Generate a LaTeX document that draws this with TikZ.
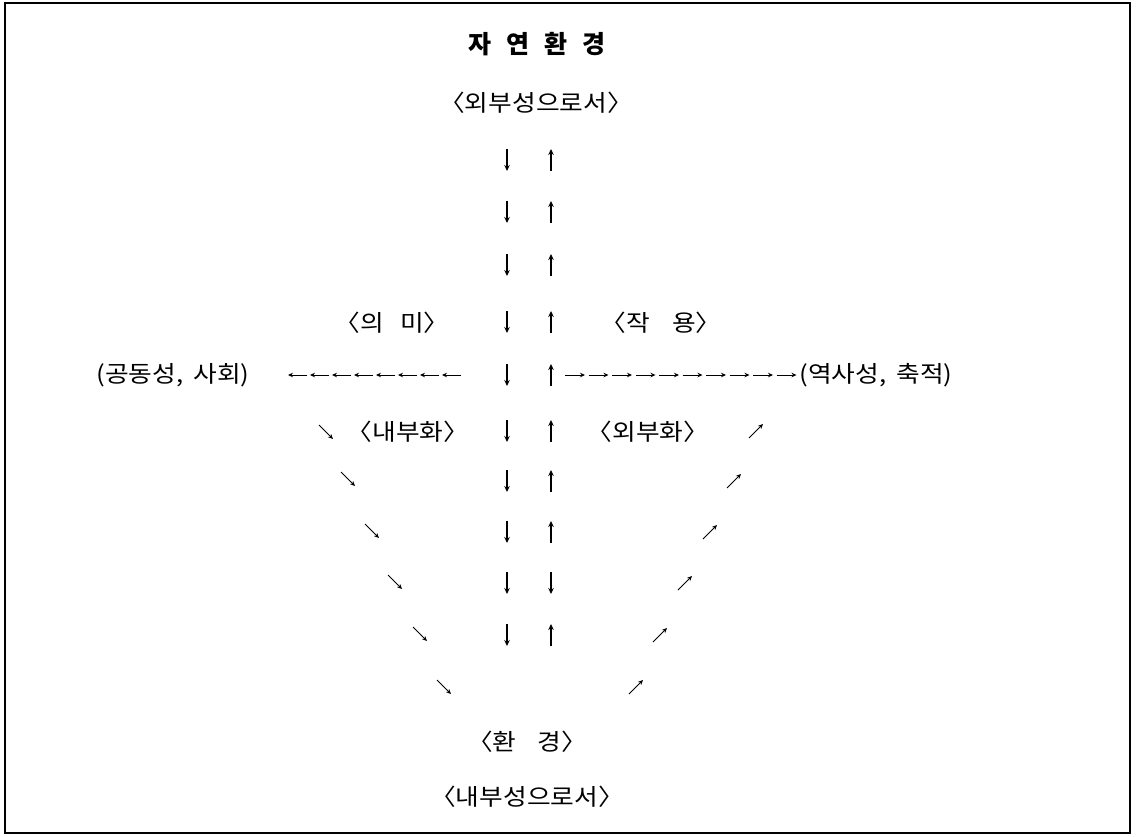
\documentclass[tikz,border=0pt]{standalone}
\usepackage{fontspec}
\newfontfamily\kr{Noto Sans CJK KR}
\newfontfamily\krw[FakeStretch=1.12]{Noto Sans CJK KR}
\usetikzlibrary{arrows.meta}
\begin{document}
\begin{tikzpicture}[x=1pt,y=-1pt,
  lbl/.style={font=\krw\fontsize{23}{26}\selectfont, inner sep=0pt, anchor=center},
  ttl/.style={font=\kr\bfseries\fontsize{25}{30}\selectfont, inner sep=0pt, anchor=center},
  arr/.style={line width=1.3pt, -{Stealth[length=6pt,width=5.5pt]}},
  harr/.style={line width=1pt, -{Stealth[length=5pt,width=4.5pt]}}]
\useasboundingbox (0,0) rectangle (1139,836);
\draw[line width=1.5pt] (5,3) rectangle (1130,833);
% texts
\node[ttl] (title) at (537,44) {자\hspace{15pt}연\hspace{15pt}환\hspace{15pt}경};
\node[lbl] (ext) at (536,103) {〈외부성으로서〉};
\node[lbl] (meaning) at (392,323) {〈의\hspace{16pt}미〉};
\node[lbl] (action) at (661,323) {〈작\hspace{22pt}용〉};
\node[lbl] (comm) at (173,375) {(공동성,\hspace{4pt} 사회)};
\node[lbl] (hist) at (876,375) {(역사성,\hspace{4pt} 축적)};
\node[lbl] (intern) at (408,432) {〈내부화〉};
\node[lbl] (extern) at (648,432) {〈외부화〉};
\node[lbl] (env) at (527,742) {〈환\hspace{21pt}경〉};
\node[lbl] (inner) at (527,797) {〈내부성으로서〉};
% vertical columns
\foreach \y in {160,212,265,322,375,431,481,532,583,635}
  \draw[arr] (507,\y-11) -- (507,\y+11);
\foreach \y in {160,212,265,322,375,431,481,532,635}
  \draw[arr] (551,\y+11) -- (551,\y-11);
\draw[arr] (551,583-11) -- (551,583+11);
% horizontal arrows
\foreach \i in {0,...,7}
  \draw[harr] (288+22*\i+19,375) -- (288+22*\i,375);
\foreach \i in {0,...,9}
  \draw[harr] (565+23.5*\i,375) -- (565+23.5*\i+20,375);
% diagonals
\foreach \x/\y in {326/432,348/479,372/531,395/582,420/634,444/687}
  \draw[harr] (\x-7,\y-7) -- (\x+7,\y+7);
\foreach \x/\y in {756/431,734/481,710/532,685/583,660/635,636/687}
  \draw[harr] (\x-7,\y+7) -- (\x+7,\y-7);
\end{tikzpicture}
\end{document}
